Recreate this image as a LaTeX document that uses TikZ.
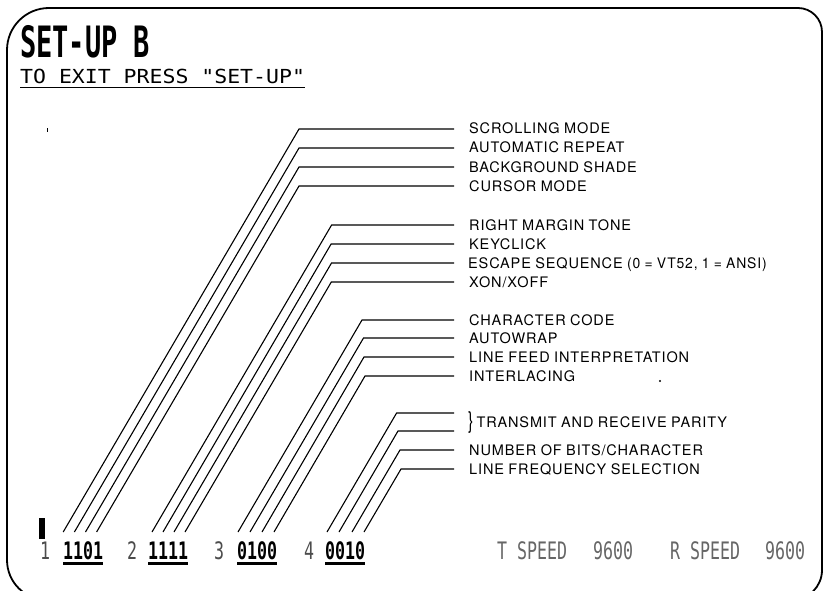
\documentclass[tikz,border=0pt]{standalone}
\usepackage{fontspec}
\setmainfont{TeX Gyre Heros}
\newfontfamily\labfont[LetterSpace=6,WordSpace=0.9]{TeX Gyre Heros}
\newfontfamily\termfont{DejaVu Sans Mono}
\newcommand\termtxt[1]{\scalebox{1}[1.45]{\fontsize{16.6}{18}\selectfont\termfont #1}}
\newcommand\termbf[1]{\scalebox{1}[1.45]{\fontsize{16.6}{18}\selectfont\termfont\bfseries #1}}
\begin{document}
\begin{tikzpicture}[x=1pt,y=-1pt,
  lbl/.style={anchor=base west,inner sep=0pt,font=\labfont\fontsize{14.5}{16}\selectfont},
  lead/.style={line width=1.1pt},
  frame/.style={line width=1.8pt},
  term/.style={anchor=base west,inner sep=0pt},
  uline/.style={line width=2.6pt}]
\useasboundingbox (0,0) rectangle (827,591);
\clip (0,0) rectangle (827,591);
% frame
\draw[frame] (7,300) [rounded corners=42] -- (7,8) [rounded corners=24] -- (822,8)
  [rounded corners=30] -- (822,600) [rounded corners=40] -- (7,600) -- cycle;
% heading
\node[term] (title) at (20,58) {\scalebox{1}[1.6]{\fontsize{27}{30}\selectfont\termfont\bfseries SET-UP B}};
\node[term] (sub) at (20,84) {\scalebox{1}[0.9]{\fontsize{21.5}{24}\selectfont\termfont TO EXIT PRESS "SET-UP"}};
\draw[line width=1.3pt] (sub.south west) ++(0,3) -- ++(285,0);
% specks
\fill (46.6,128.5) rectangle (47.6,132);
\fill (660,381) circle (1.1);
% leader lines
\coordinate (E) at (454,0);
\foreach \n/\bx/\ty/\kx in {
  a/63.2/129/299, b/74.4/148/299, c/85.5/167/299, d/96.6/186/299,
  e/152/225/331.6, f/163/244/331.1, g/174/263/331.5, h/185/282/331.3,
  i/238/320/362, j/250/338/363.5, k/262/357/364, l/274/376/365,
  m/327/413/396.6, n/339/431/398, o/352/450/400, p/364/469/401}{
  \coordinate (b\n) at (\bx,532);
  \coordinate (k\n) at (\kx,\ty);
  \draw[lead] (b\n) -- (k\n) -- (k\n -| E);
}
% labels
\node[lbl] (la) at (469,134) {SCROLLING MODE};
\node[lbl] (lb) at (469,153) {AUTOMATIC REPEAT};
\node[lbl] (lc) at (469,172) {BACKGROUND SHADE};
\node[lbl] (ld) at (469,191) {CURSOR MODE};
\node[lbl] (le) at (469,230) {RIGHT MARGIN TONE};
\node[lbl] (lf) at (469,249) {KEYCLICK};
\node[lbl] (lg) at (468,268) {ESCAPE SEQUENCE \scalebox{0.96}[1]{(0 = VT52, 1 = ANSI)}};
\node[lbl] (lh) at (469,287) {XON/XOFF};
\node[lbl] (li) at (469,325) {CHARACTER CODE};
\node[lbl] (lj) at (469,343) {AUTOWRAP};
\node[lbl] (lk) at (469,362) {LINE FEED INTERPRETATION};
\node[lbl] (ll) at (469,381) {INTERLACING};
\node[lbl] (lm) at (468,427) {\raisebox{-1.5pt}{\scalebox{1.1}[1.6]{\}}}\hspace{3pt}TRANSMIT AND RECEIVE PARITY};
\node[lbl] (lo) at (469,455) {NUMBER OF BITS/CHARACTER};
\node[lbl] (lp) at (469,474) {LINE FREQUENCY SELECTION};
% bottom status row
\fill (39,518) rectangle (45,539);
\node[term,text=black!70] (n1) at (40,559) {\termtxt{1}};
\node[term] (g1) at (63,559) {\termbf{1101}};
\node[term,text=black!70] (n2) at (127,559) {\termtxt{2}};
\node[term] (g2) at (148,559) {\termbf{1111}};
\node[term,text=black!70] (n3) at (214,559) {\termtxt{3}};
\node[term] (g3) at (237,559) {\termbf{0100}};
\node[term,text=black!70] (n4) at (304,559) {\termtxt{4}};
\node[term] (g4) at (325,559) {\termbf{0010}};
\foreach \g in {g1,g2,g3,g4}{
  \draw[uline] ([yshift=-4pt]\g.south west) -- ([yshift=-4pt]\g.south east);
}
\node[term,text=black!60] (ts) at (497,559) {\termtxt{T SPEED}};
\node[term,text=black!60] (tv) at (593,559) {\termtxt{9600}};
\node[term,text=black!60] (rs) at (670,559) {\termtxt{R SPEED}};
\node[term,text=black!60] (rv) at (765,559) {\termtxt{9600}};
\end{tikzpicture}
\end{document}
